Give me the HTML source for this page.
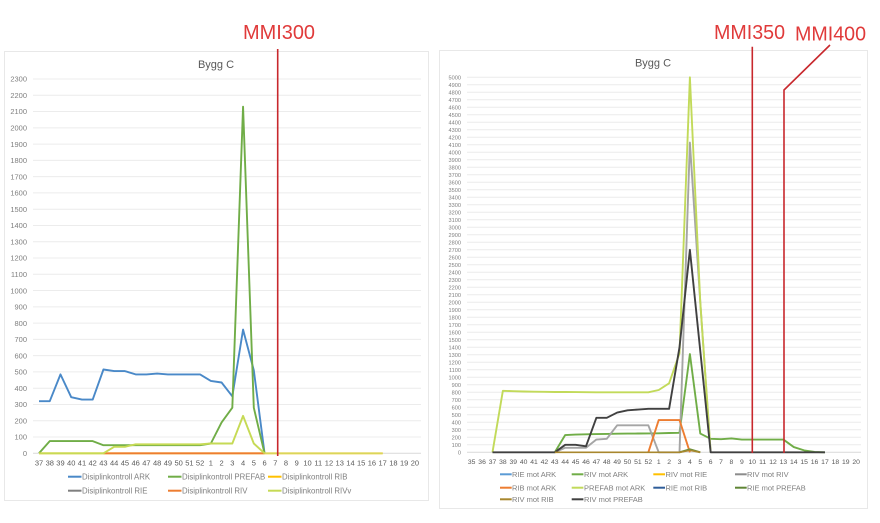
<!DOCTYPE html>
<html><head><meta charset="utf-8"><style>
html,body{margin:0;padding:0;background:#fff;}
svg{display:block;}
text{font-family:"Liberation Sans",Arial,sans-serif;}
</style></head><body>
<svg width="880" height="523" viewBox="0 0 880 523" xmlns="http://www.w3.org/2000/svg">
<rect x="0" y="0" width="880" height="523" fill="#fff"/>
<!-- frames -->
<rect x="4.5" y="51.5" width="424" height="449" fill="#fff" stroke="#e8e8e8" stroke-width="1"/>
<rect x="439.5" y="50.5" width="428" height="458" fill="#fff" stroke="#e8e8e8" stroke-width="1"/>

<!-- LEFT CHART -->
<text x="216" y="68" font-size="11" fill="#595959" text-anchor="middle">Bygg C</text>
<g stroke="#ececec" stroke-width="1">
<path d="M33 437.03H421M33 420.75H421M33 404.48H421M33 388.2H421M33 371.93H421M33 355.66H421M33 339.38H421M33 323.11H421M33 306.83H421M33 290.56H421M33 274.29H421M33 258.01H421M33 241.74H421M33 225.46H421M33 209.19H421M33 192.92H421M33 176.64H421M33 160.37H421M33 144.09H421M33 127.82H421M33 111.55H421M33 95.27H421M33 79H421"/>
</g>
<path d="M33 453.3H421" stroke="#d9d9d9" stroke-width="1"/>
<g font-size="7.5" fill="#7f7f7f" text-anchor="end">
<text x="27" y="456">0</text><text x="27" y="439.7">100</text><text x="27" y="423.4">200</text><text x="27" y="407.2">300</text><text x="27" y="390.9">400</text><text x="27" y="374.6">500</text><text x="27" y="358.4">600</text><text x="27" y="342.1">700</text><text x="27" y="325.8">800</text><text x="27" y="309.5">900</text><text x="27" y="293.3">1000</text><text x="27" y="277">1100</text><text x="27" y="260.7">1200</text><text x="27" y="244.4">1300</text><text x="27" y="228.2">1400</text><text x="27" y="211.9">1500</text><text x="27" y="195.6">1600</text><text x="27" y="179.3">1700</text><text x="27" y="163.1">1800</text><text x="27" y="146.8">1900</text><text x="27" y="130.5">2000</text><text x="27" y="114.2">2100</text><text x="27" y="98">2200</text><text x="27" y="81.7">2300</text>
</g>
<g font-size="7.5" fill="#595959" text-anchor="middle">
<text x="39" y="465.5">37</text><text x="49.74" y="465.5">38</text><text x="60.48" y="465.5">39</text><text x="71.22" y="465.5">40</text><text x="81.96" y="465.5">41</text><text x="92.7" y="465.5">42</text><text x="103.44" y="465.5">43</text><text x="114.18" y="465.5">44</text><text x="124.92" y="465.5">45</text><text x="135.66" y="465.5">46</text><text x="146.4" y="465.5">47</text><text x="157.14" y="465.5">48</text><text x="167.88" y="465.5">49</text><text x="178.62" y="465.5">50</text><text x="189.36" y="465.5">51</text><text x="200.1" y="465.5">52</text><text x="210.84" y="465.5">1</text><text x="221.58" y="465.5">2</text><text x="232.32" y="465.5">3</text><text x="243.06" y="465.5">4</text><text x="253.8" y="465.5">5</text><text x="264.54" y="465.5">6</text><text x="275.28" y="465.5">7</text><text x="286.02" y="465.5">8</text><text x="296.76" y="465.5">9</text><text x="307.5" y="465.5">10</text><text x="318.24" y="465.5">11</text><text x="328.98" y="465.5">12</text><text x="339.72" y="465.5">13</text><text x="350.46" y="465.5">14</text><text x="361.2" y="465.5">15</text><text x="371.94" y="465.5">16</text><text x="382.68" y="465.5">17</text><text x="393.42" y="465.5">18</text><text x="404.16" y="465.5">19</text><text x="414.9" y="465.5">20</text>
</g>
<g fill="none" stroke-width="1.9" stroke-linejoin="round">
<polyline stroke="#4a89c8" points="39,401.2 49.74,401.2 60.48,374.4 71.22,397.2 81.96,399.6 92.7,399.6 103.44,369.5 114.18,371.1 124.92,371.1 135.66,374.4 146.4,374.4 157.14,373.6 167.88,374.4 178.62,374.4 189.36,374.4 200.1,374.4 210.84,380.9 221.58,382.5 232.32,396.3 243.06,329.6 253.8,370.3 264.54,453.3"/>
<polyline stroke="#70ad47" points="39,453.3 49.74,441.1 60.48,441.1 71.22,441.1 81.96,441.1 92.7,441.1 103.44,445.2 114.18,445.2 124.92,445.2 135.66,445.2 146.4,445.2 157.14,445.2 167.88,445.2 178.62,445.2 189.36,445.2 200.1,445.2 210.84,443.5 221.58,422.4 232.32,407.7 243.06,106.7 253.8,407.7 264.54,453.3"/>
<polyline stroke="#ffc000" points="39,453.3 382.68,453.3"/>
<polyline stroke="#ed7d31" points="103.44,453.3 264.54,453.3"/>
<polyline stroke="#c6da55" points="39,453.3 103.44,453.3 114.18,446.8 124.92,446.8 135.66,444.3 146.4,444.3 157.14,444.3 167.88,444.3 178.62,444.3 189.36,444.3 200.1,444.3 210.84,443.5 221.58,443.5 232.32,443.5 243.06,415.9 253.8,443.5 264.54,453.3"/>
<polyline stroke="#d9d65a" stroke-width="1.6" points="264.54,453.3 382.68,453.3"/>
</g>
<!-- left legend -->
<g stroke-width="2">
<line x1="68" y1="476.7" x2="81.5" y2="476.7" stroke="#4a89c8"/>
<line x1="168" y1="476.7" x2="181.5" y2="476.7" stroke="#70ad47"/>
<line x1="268" y1="476.7" x2="281.5" y2="476.7" stroke="#ffc000"/>
<line x1="68" y1="490.7" x2="81.5" y2="490.7" stroke="#7f7f7f"/>
<line x1="168" y1="490.7" x2="181.5" y2="490.7" stroke="#ed7d31"/>
<line x1="268" y1="490.7" x2="281.5" y2="490.7" stroke="#c6da55"/>
</g>
<g font-size="7.8" fill="#7f7f7f">
<text x="82" y="479.5">Disiplinkontroll ARK</text>
<text x="182" y="479.5">Disiplinkontroll PREFAB</text>
<text x="282" y="479.5">Disiplinkontroll RIB</text>
<text x="82" y="493.5">Disiplinkontroll RIE</text>
<text x="182" y="493.5">Disiplinkontroll RIV</text>
<text x="282" y="493.5">Disiplinkontroll RIVv</text>
</g>
<!-- MMI300 -->
<line x1="277.7" y1="49" x2="277.7" y2="456" stroke="#c8282d" stroke-width="1.6"/>
<text x="243" y="39" font-size="20" fill="#e03a3a" textLength="72" lengthAdjust="spacingAndGlyphs">MMI300</text>

<!-- RIGHT CHART -->
<text x="653" y="66.7" font-size="11" fill="#595959" text-anchor="middle">Bygg C</text>
<path stroke="#ececec" stroke-width="1" fill="none" d="M467 444.8H861M467 437.3H861M467 429.8H861M467 422.3H861M467 414.8H861M467 407.3H861M467 399.8H861M467 392.3H861M467 384.8H861M467 377.3H861M467 369.8H861M467 362.3H861M467 354.8H861M467 347.3H861M467 339.8H861M467 332.3H861M467 324.8H861M467 317.3H861M467 309.8H861M467 302.3H861M467 294.8H861M467 287.3H861M467 279.8H861M467 272.3H861M467 264.8H861M467 257.3H861M467 249.8H861M467 242.3H861M467 234.8H861M467 227.3H861M467 219.8H861M467 212.3H861M467 204.8H861M467 197.3H861M467 189.8H861M467 182.3H861M467 174.8H861M467 167.3H861M467 159.8H861M467 152.3H861M467 144.8H861M467 137.3H861M467 129.8H861M467 122.3H861M467 114.8H861M467 107.3H861M467 99.8H861M467 92.3H861M467 84.8H861M467 77.3H861"/>
<path d="M467 452.3H861" stroke="#d9d9d9" stroke-width="1"/>
<g font-size="5.6" fill="#7f7f7f" text-anchor="end">
<text x="461" y="454.3">0</text><text x="461" y="446.8">100</text><text x="461" y="439.3">200</text><text x="461" y="431.8">300</text><text x="461" y="424.3">400</text><text x="461" y="416.8">500</text><text x="461" y="409.3">600</text><text x="461" y="401.8">700</text><text x="461" y="394.3">800</text><text x="461" y="386.8">900</text><text x="461" y="379.3">1000</text><text x="461" y="371.8">1100</text><text x="461" y="364.3">1200</text><text x="461" y="356.8">1300</text><text x="461" y="349.3">1400</text><text x="461" y="341.8">1500</text><text x="461" y="334.3">1600</text><text x="461" y="326.8">1700</text><text x="461" y="319.3">1800</text><text x="461" y="311.8">1900</text><text x="461" y="304.3">2000</text><text x="461" y="296.8">2100</text><text x="461" y="289.3">2200</text><text x="461" y="281.8">2300</text><text x="461" y="274.3">2400</text><text x="461" y="266.8">2500</text><text x="461" y="259.3">2600</text><text x="461" y="251.8">2700</text><text x="461" y="244.3">2800</text><text x="461" y="236.8">2900</text><text x="461" y="229.3">3000</text><text x="461" y="221.8">3100</text><text x="461" y="214.3">3200</text><text x="461" y="206.8">3300</text><text x="461" y="199.3">3400</text><text x="461" y="191.8">3500</text><text x="461" y="184.3">3600</text><text x="461" y="176.8">3700</text><text x="461" y="169.3">3800</text><text x="461" y="161.8">3900</text><text x="461" y="154.3">4000</text><text x="461" y="146.8">4100</text><text x="461" y="139.3">4200</text><text x="461" y="131.8">4300</text><text x="461" y="124.3">4400</text><text x="461" y="116.8">4500</text><text x="461" y="109.3">4600</text><text x="461" y="101.8">4700</text><text x="461" y="94.3">4800</text><text x="461" y="86.8">4900</text><text x="461" y="79.3">5000</text>
</g>
<g font-size="6.8" fill="#595959" text-anchor="middle">
<text x="471.7" y="463.8">35</text><text x="482.09" y="463.8">36</text><text x="492.48" y="463.8">37</text><text x="502.87" y="463.8">38</text><text x="513.26" y="463.8">39</text><text x="523.65" y="463.8">40</text><text x="534.04" y="463.8">41</text><text x="544.43" y="463.8">42</text><text x="554.82" y="463.8">43</text><text x="565.21" y="463.8">44</text><text x="575.6" y="463.8">45</text><text x="585.99" y="463.8">46</text><text x="596.38" y="463.8">47</text><text x="606.77" y="463.8">48</text><text x="617.16" y="463.8">49</text><text x="627.55" y="463.8">50</text><text x="637.94" y="463.8">51</text><text x="648.33" y="463.8">52</text><text x="658.72" y="463.8">1</text><text x="669.11" y="463.8">2</text><text x="679.5" y="463.8">3</text><text x="689.89" y="463.8">4</text><text x="700.28" y="463.8">5</text><text x="710.67" y="463.8">6</text><text x="721.06" y="463.8">7</text><text x="731.45" y="463.8">8</text><text x="741.84" y="463.8">9</text><text x="752.23" y="463.8">10</text><text x="762.62" y="463.8">11</text><text x="773.01" y="463.8">12</text><text x="783.4" y="463.8">13</text><text x="793.79" y="463.8">14</text><text x="804.18" y="463.8">15</text><text x="814.57" y="463.8">16</text><text x="824.96" y="463.8">17</text><text x="835.35" y="463.8">18</text><text x="845.74" y="463.8">19</text><text x="856.13" y="463.8">20</text>
</g>
<g fill="none" stroke-width="1.9" stroke-linejoin="round">
<polyline stroke="#70ad47" points="554.82,452.3 565.21,435.05 575.6,434.6 585.99,434.3 596.38,434.1 606.77,433.9 617.16,433.7 627.55,433.6 637.94,433.5 648.33,433.4 658.72,433.3 669.11,433 679.5,432.8 689.89,354.05 700.28,433.55 710.67,438.8 721.06,439.2 731.45,438.4 741.84,439.55 752.23,439.55 762.62,439.55 773.01,439.55 783.4,439.55 793.79,447.05 804.18,450.4 814.57,451.9 824.96,452.3"/>
<polyline stroke="#a5a5a5" points="554.82,452.3 565.21,447.8 575.6,447.8 585.99,447.8 596.38,439.55 606.77,438.8 617.16,425.3 627.55,425.3 637.94,425.3 648.33,425.3 658.72,452.3 669.11,452.3 679.5,452.3 689.89,142.55 700.28,302.3 710.67,452.3"/>
<polyline stroke="#ed7d31" points="648.33,452.3 658.72,420.05 669.11,420.05 679.5,420.05 689.89,452.3"/>
<polyline stroke="#c2da5a" points="492.48,452.3 502.87,390.8 513.26,391.2 523.65,391.5 534.04,391.7 544.43,391.8 554.82,392 565.21,392 575.6,392.1 585.99,392.2 596.38,392.3 606.77,392.3 617.16,392.3 627.55,392.3 637.94,392.3 648.33,392.3 658.72,390 669.11,383.3 679.5,353.3 689.89,77.3 700.28,302.3 710.67,452.3"/>
<polyline stroke="#6a8f3a" points="679.5,452.3 689.89,449.3 700.28,452.3"/>
<polyline stroke="#404040" points="492.48,452.3 554.82,452.3 565.21,444.8 575.6,444.8 585.99,446.3 596.38,417.8 606.77,417.8 617.16,412.55 627.55,410.3 637.94,409.55 648.33,408.8 658.72,408.8 669.11,408.8 679.5,347.3 689.89,249.8 700.28,351 710.67,452.3 824.96,452.3"/>
<polyline stroke="#a8872e" stroke-width="1.6" points="554.82,452.3 679.5,452.3 689.89,450.3 700.28,452.3"/>
</g>
<!-- right legend -->
<g stroke-width="2">
<line x1="500" y1="474.3" x2="511.7" y2="474.3" stroke="#5b9bd5"/>
<line x1="571.7" y1="474.3" x2="583.4" y2="474.3" stroke="#70ad47"/>
<line x1="653.3" y1="474.3" x2="665" y2="474.3" stroke="#ffc000"/>
<line x1="735" y1="474.3" x2="746.7" y2="474.3" stroke="#8c8c8c"/>
<line x1="500" y1="487.7" x2="511.7" y2="487.7" stroke="#ed7d31"/>
<line x1="571.7" y1="487.7" x2="583.4" y2="487.7" stroke="#c2da5a"/>
<line x1="653.3" y1="487.7" x2="665" y2="487.7" stroke="#2f5d99"/>
<line x1="735" y1="487.7" x2="746.7" y2="487.7" stroke="#5f8535"/>
<line x1="500" y1="499.3" x2="511.7" y2="499.3" stroke="#a8872e"/>
<line x1="571.7" y1="499.3" x2="583.4" y2="499.3" stroke="#404040"/>
</g>
<g font-size="7.5" fill="#7f7f7f">
<text x="512" y="477">RIE mot ARK</text>
<text x="584" y="477">RIV mot ARK</text>
<text x="665.5" y="477">RIV mot RIE</text>
<text x="747" y="477">RIV mot RIV</text>
<text x="512" y="490.4">RIB mot ARK</text>
<text x="584" y="490.4">PREFAB mot ARK</text>
<text x="665.5" y="490.4">RIE mot RIB</text>
<text x="747" y="490.4">RIE mot PREFAB</text>
<text x="512" y="502">RIV mot RIB</text>
<text x="584" y="502">RIV mot PREFAB</text>
</g>
<!-- MMI350 / MMI400 -->
<line x1="752.3" y1="46.7" x2="752.3" y2="453" stroke="#c8282d" stroke-width="1.6"/>
<polyline points="830,45 784,90 784,453" fill="none" stroke="#c8282d" stroke-width="1.6"/>
<text x="714" y="39" font-size="20" fill="#e03a3a" textLength="71" lengthAdjust="spacingAndGlyphs">MMI350</text>
<text x="795" y="40.7" font-size="20" fill="#e03a3a" textLength="71" lengthAdjust="spacingAndGlyphs">MMI400</text>
</svg>
</body></html>
